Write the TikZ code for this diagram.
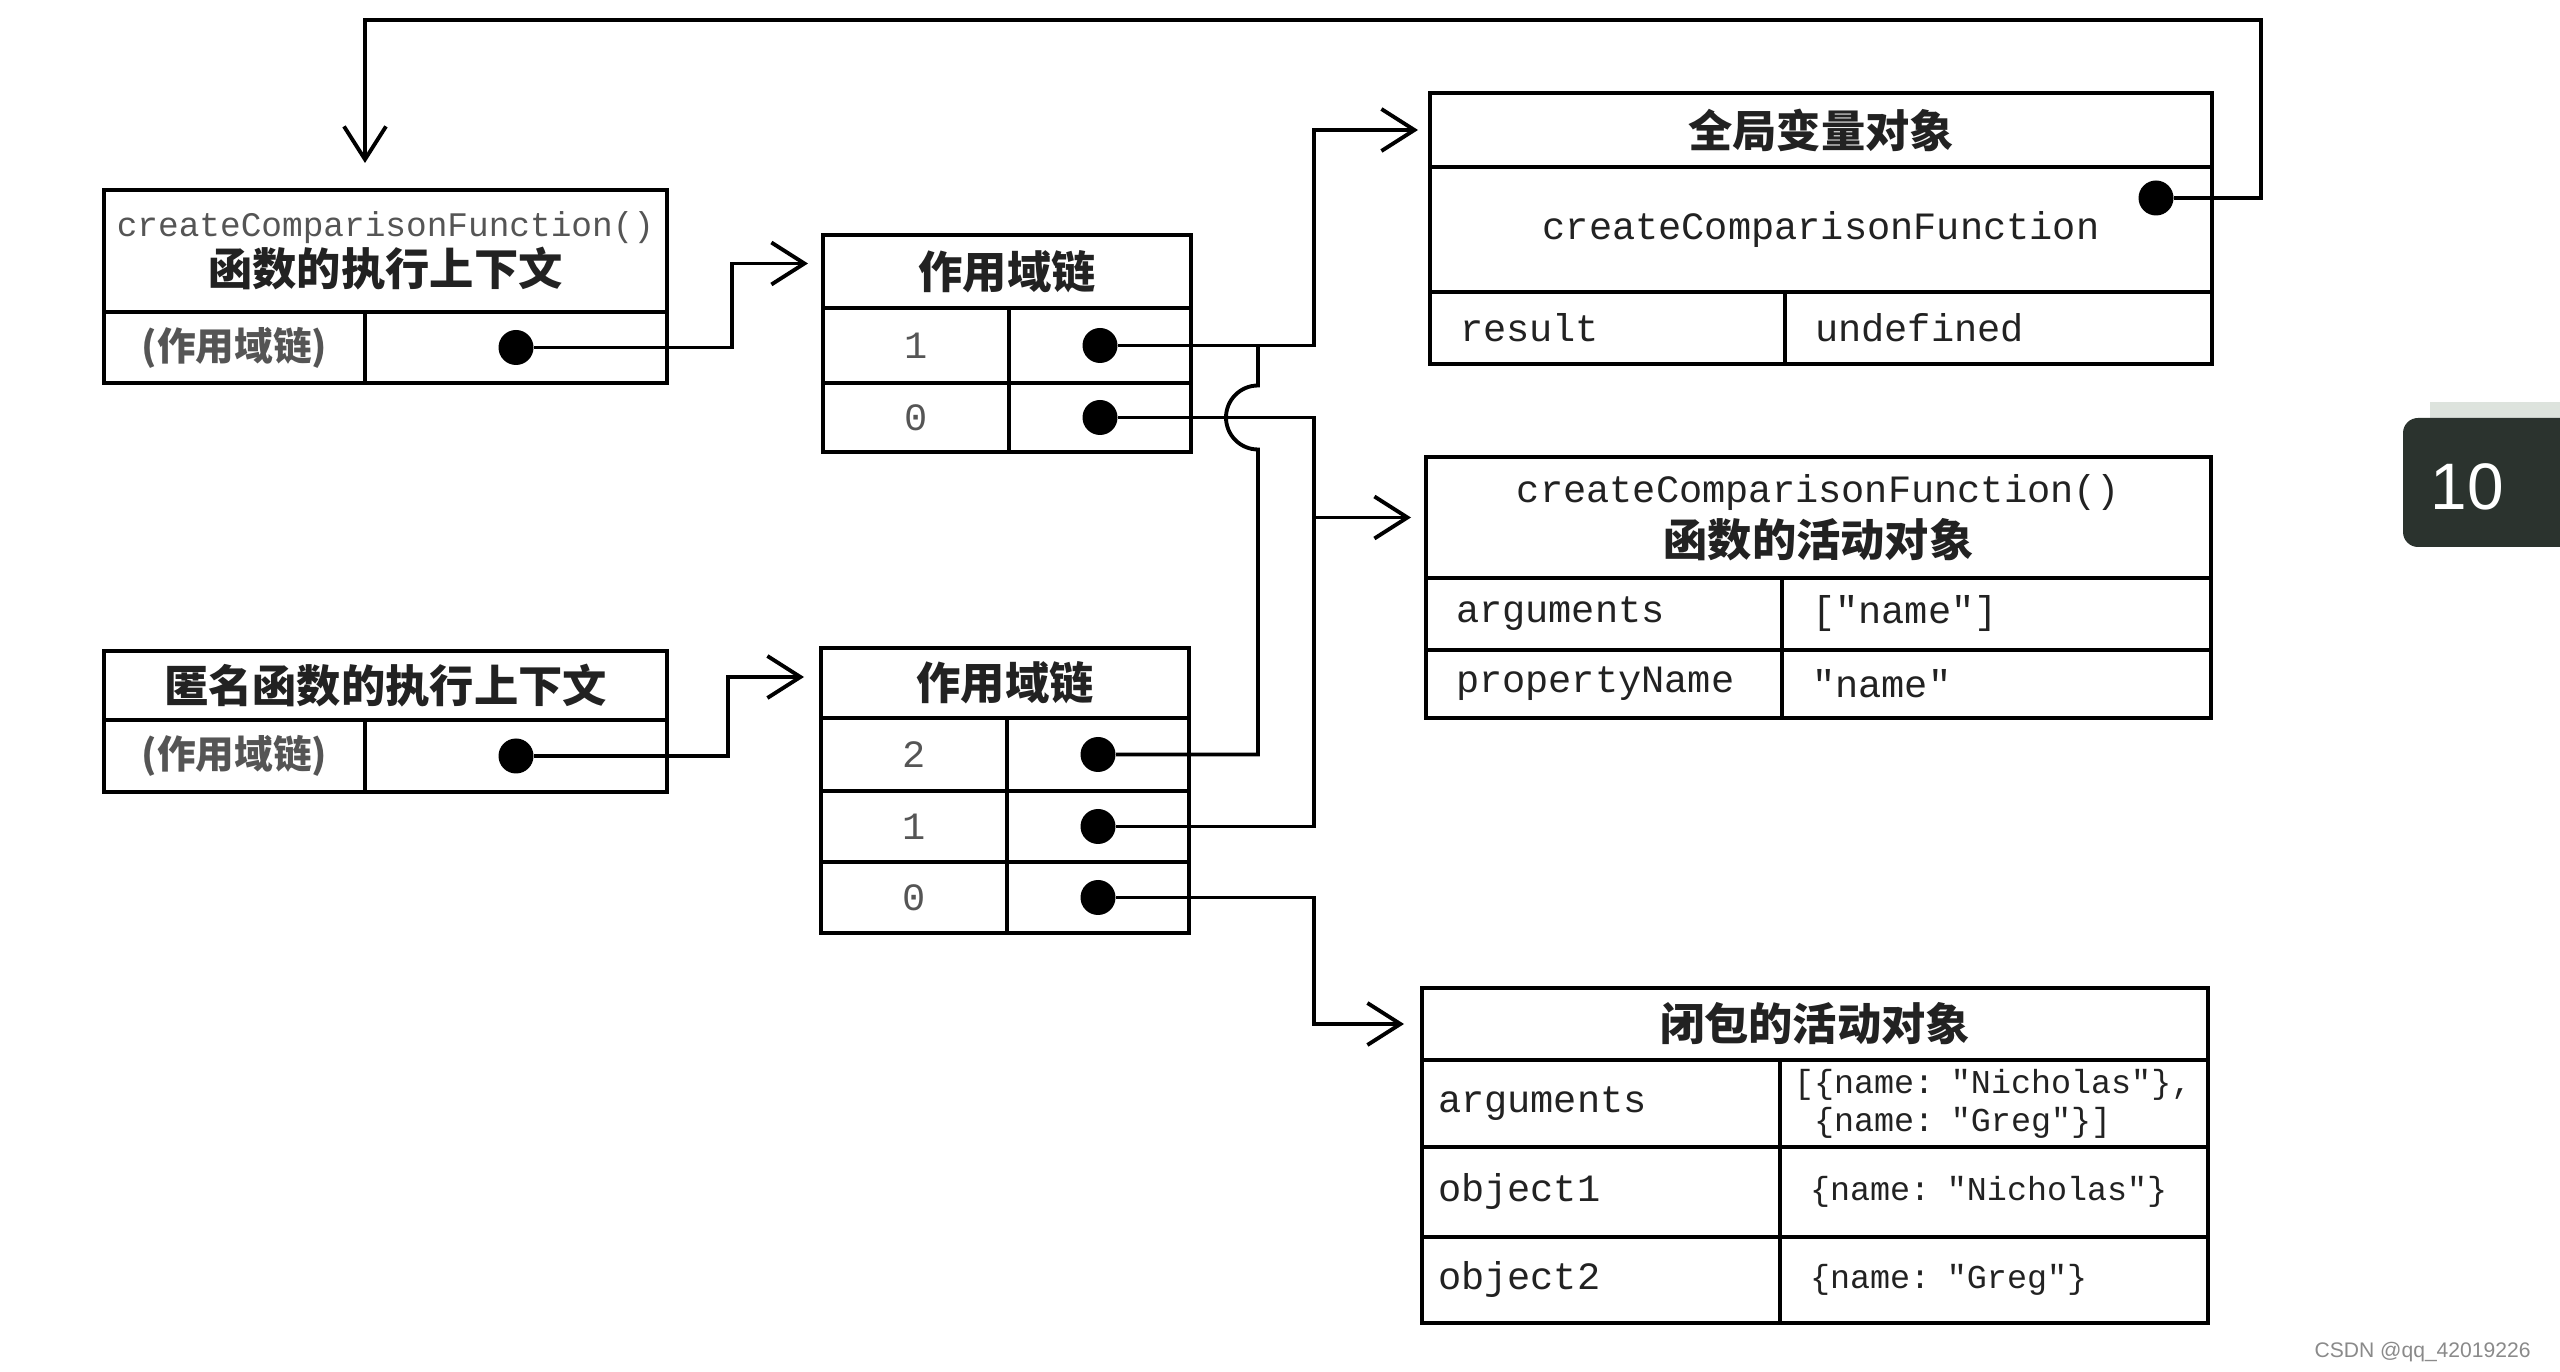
\documentclass[tikz,border=0pt]{standalone}
\usepackage{fontspec}
\setmainfont{Noto Sans CJK SC}
\setmonofont{Liberation Mono}
\newfontfamily\latsans{Liberation Sans}
\usetikzlibrary{arrows.meta, positioning, calc}
\definecolor{ctexto}{HTML}{222222}
\definecolor{cgris}{HTML}{555555}
\definecolor{cpestana}{HTML}{2B332E}
\definecolor{cpestclaro}{HTML}{DDE3DD}
\definecolor{cmarca}{HTML}{8A8A8A}
\newcommand{\cjkb}{\bfseries\fontsize{12.6pt}{15pt}\selectfont}
\newcommand{\cjkm}{\bfseries\fontsize{11pt}{13pt}\selectfont}
\newcommand{\monof}{\ttfamily\fontsize{11pt}{13pt}\selectfont}
\newcommand{\monop}{\ttfamily\fontsize{9.5pt}{10.8pt}\selectfont}
\tikzset{
  celda/.style={draw=black, line width=1pt, outer sep=0pt, inner sep=0pt, text=ctexto},
  caja/.style 2 args={celda, minimum width=#1, minimum height=#2, align=center},
  campo/.style 2 args={celda, text width=#1, minimum height=#2, align=left, inner xsep=3mm, font=\monof},
  numero/.style={font=\monof, text=cgris},
  punto/.style={circle, fill=black, inner sep=0pt, minimum size=3.5mm},
  linea/.style={line width=1.1pt, draw=black},
  flecha/.style={linea, -{Straight Barb[length=3.3mm, width=4.2mm]}},
}

\begin{document}
\begin{tikzpicture}
    \useasboundingbox[fill=white] (0,0) rectangle (25.6,-13.72);
    % contexto de createComparisonFunction
    \node[caja={5.63cm}{1.22cm}, anchor=north west, font=\fontsize{12pt}{14pt}\selectfont] (ah) at (1.04,-1.90)
        {{\ttfamily\fontsize{9.8pt}{12pt}\selectfont\color{cgris}createComparisonFunction()}\\{\cjkb 函数的执行上下文}};
    \node[caja={2.61cm}{0.71cm}, anchor=north west, font=\cjkm, text=cgris] (a1) at (ah.south west) {(作用域链)};
    \node[caja={3.02cm}{0.71cm}, right=0pt of a1] (a1v) {};
    \node[punto] (ap) at (a1v) {};
    % cadena de ambito 1
    \node[caja={3.68cm}{0.73cm}, anchor=north west, font=\cjkb] (bh) at (8.23,-2.35) {作用域链};
    \node[caja={1.86cm}{0.75cm}, anchor=north west, numero] (b1) at (bh.south west) {1};
    \node[caja={1.82cm}{0.75cm}, right=0pt of b1] (b1v) {};
    \node[caja={1.86cm}{0.69cm}, below=0pt of b1, numero] (b0) {0};
    \node[caja={1.82cm}{0.69cm}, right=0pt of b0] (b0v) {};
    \node[punto] (bp1) at (b1v) {};
    \node[punto] (bp0) at (b0v) {};
    % contexto anonimo
    \node[caja={5.63cm}{0.69cm}, anchor=north west, font=\cjkb] (eh) at (1.04,-6.51) {匿名函数的执行上下文};
    \node[caja={2.61cm}{0.72cm}, anchor=north west, font=\cjkm, text=cgris] (e1) at (eh.south west) {(作用域链)};
    \node[caja={3.02cm}{0.72cm}, right=0pt of e1] (e1v) {};
    \node[punto] (ep) at (e1v) {};
    % cadena de ambito 2
    \node[caja={3.68cm}{0.70cm}, anchor=north west, font=\cjkb] (dh) at (8.21,-6.48) {作用域链};
    \node[caja={1.86cm}{0.73cm}, anchor=north west, numero] (d2) at (dh.south west) {2};
    \node[caja={1.82cm}{0.73cm}, right=0pt of d2] (d2v) {};
    \node[caja={1.86cm}{0.71cm}, below=0pt of d2, numero] (d1) {1};
    \node[caja={1.82cm}{0.71cm}, right=0pt of d1] (d1v) {};
    \node[caja={1.86cm}{0.71cm}, below=0pt of d1, numero] (d0) {0};
    \node[caja={1.82cm}{0.71cm}, right=0pt of d0] (d0v) {};
    \node[punto] (dp2) at (d2v) {};
    \node[punto] (dp1) at (d1v) {};
    \node[punto] (dp0) at (d0v) {};
    % objeto global
    \node[caja={7.82cm}{0.74cm}, anchor=north west, font=\cjkb] (gh) at (14.30,-0.93) {全局变量对象};
    \node[caja={7.82cm}{1.25cm}, below=0pt of gh, font=\monof] (gm) {createComparisonFunction};
    \node[campo={2.95cm}{0.72cm}, anchor=north west] (g1) at (gm.south west) {result};
    \node[campo={3.67cm}{0.72cm}, right=0pt of g1] (g1v) {undefined};
    \node[punto] (gp) at ($(gm.north east)+(-0.56,-0.31)$) {};
    % objeto activo de createComparisonFunction
    \node[caja={7.85cm}{1.21cm}, anchor=north west, font=\fontsize{12pt}{15.5pt}\selectfont] (fh) at (14.26,-4.57)
        {{\monof createComparisonFunction()}\\{\cjkb 函数的活动对象}};
    \node[campo={2.96cm}{0.72cm}, anchor=north west] (f1) at (fh.south west) {arguments};
    \node[campo={3.69cm}{0.72cm}, right=0pt of f1] (f1v) {["name"]};
    \node[campo={2.96cm}{0.68cm}, below=0pt of f1] (f2) {propertyName};
    \node[campo={3.69cm}{0.68cm}, right=0pt of f2] (f2v) {"name"};
    % objeto activo del cierre
    \node[caja={7.86cm}{0.72cm}, anchor=north west, font=\cjkb] (ch) at (14.22,-9.88) {闭包的活动对象};
    \node[campo={3.26cm}{0.87cm}, inner xsep=1.6mm, anchor=north west] (c1) at (ch.south west) {arguments};
    \node[campo={4.00cm}{0.87cm}, inner xsep=1.4mm, font=\monop, right=0pt of c1] (c1v)
        {[\{name: "Nicholas"\},\\\hphantom{[}\{name: "Greg"\}]};
    \node[campo={3.26cm}{0.90cm}, inner xsep=1.6mm, below=0pt of c1] (c2) {object1};
    \node[campo={3.68cm}{0.90cm}, inner xsep=3mm, font=\monop, right=0pt of c2] (c2v) {\{name: "Nicholas"\}};
    \node[campo={3.26cm}{0.86cm}, inner xsep=1.6mm, below=0pt of c2] (c3) {object2};
    \node[campo={3.68cm}{0.86cm}, inner xsep=3mm, font=\monop, right=0pt of c3] (c3v) {\{name: "Greg"\}};
    % conectores
    \coordinate (vx) at ($(bp1)+(2.14,0)$);
    \coordinate (vy) at ($(bp1)+(1.58,0)$);
    \coordinate (arriba) at (0,-0.20);
    \draw[flecha] (ap) -- ++(2.16,0) |- ([xshift=-1.5mm,yshift=0.8mm]bh.west);
    \draw[flecha] (ep) -- ++(2.12,0) |- ([xshift=-1.7mm,yshift=0.6mm]dh.west);
    \draw[flecha] (bp1) -- (vx) |- ([xshift=-1.2mm]gh.west);
    \draw[linea] (dp2) -| ($(bp0 -| vy)+(0,-0.32)$) arc[start angle=270, end angle=90, radius=3.2mm] -- (vy);
    \draw[flecha] (bp0) -| (vx |- fh.west) -- ([xshift=-1.5mm]fh.west);
    \draw[linea] (dp1) -| (vx |- fh.west);
    \draw[flecha] (dp0) -- (vx |- dp0) |- ([xshift=-1.8mm]ch.west);
    \draw[flecha] (gp) -- ++(1.05,0) |- (arriba -| a1.east) -- ($(ah.north -| a1.east)+(0,0.27)$);
    % pestana de pagina y marca
    \fill[cpestclaro] (24.30,-4.02) rectangle (26,-4.22);
    \fill[cpestana, rounded corners=0.15cm] (24.03,-4.18) rectangle (26.2,-5.47);
    \node[text=white, font=\latsans\fontsize{18.7pt}{20pt}\selectfont] (pag) at (24.67,-4.87) {10};
    \node[text=cmarca, font=\latsans\fontsize{6pt}{7pt}\selectfont, anchor=east] (csdn) at (25.43,-13.52) {CSDN @qq\_42019226};
\end{tikzpicture}
\end{document}
